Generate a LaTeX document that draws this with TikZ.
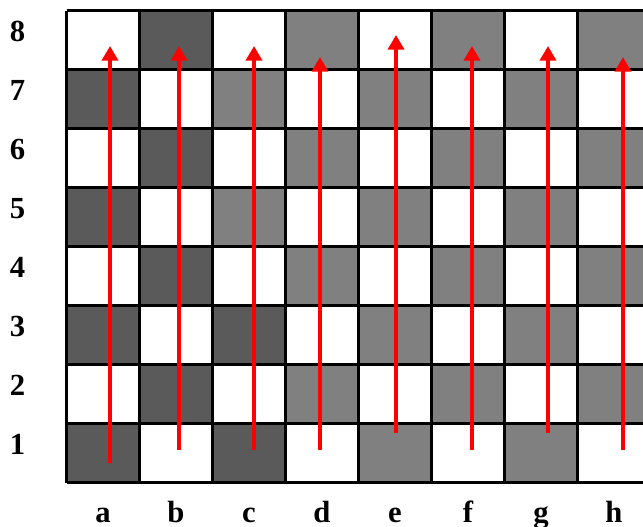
\documentclass[tikz,border=0pt]{standalone}
\usepackage{fontspec}
\setmainfont{Liberation Serif}
\usetikzlibrary{arrows.meta}
\definecolor{sqdark}{RGB}{90,90,90}
\definecolor{sqmid}{RGB}{128,128,128}
\definecolor{movered}{RGB}{255,0,0}

\begin{document}
\begin{tikzpicture}[x=0.75pt, y=-0.75pt,
        lbl/.style={font=\fontsize{23}{23}\selectfont\bfseries, anchor=base},
        arr/.style={-{Triangle[length=11pt, width=12pt]}, line width=3pt, movered},
        gridline/.style={line width=1.8pt, black}
      ]
        \useasboundingbox (0,0) rectangle (643,526);
        % Squares
        \foreach \i/\r in {1/1,3/1,2/2,1/3,3/3,2/4,1/5,2/6,1/7,2/8}
          \fill[sqdark] ({66.5+73*(\i-1)},{10.5+59*(8-\r)}) rectangle +(73,59);
        \foreach \i/\r in {5/1,7/1,4/2,6/2,8/2,5/3,7/3,4/4,6/4,8/4,3/5,5/5,7/5,
                           4/6,6/6,8/6,3/7,5/7,7/7,4/8,6/8,8/8}
          \fill[sqmid] ({66.5+73*(\i-1)},{10.5+59*(8-\r)}) rectangle +(73,59);
        \foreach \k in {0,...,8} {
          \draw[gridline] ({66.5+73*\k},10.5) -- ++(0,472);
          \draw[gridline] (66.5,{10.5+59*\k}) -- ++(584,0);
        }
        % Labels
        \foreach \r in {1,...,8}
          \node[lbl] (rank\r) at (17.5,{41+59*(8-\r)}) {\r};
        \foreach \f [count=\i] in {a,b,c,d,e,f,g,h}
          \node[lbl] (file\f) at ({103+73*(\i-1)},522) {\f};
        % Moves
        \foreach \f/\x/\ya/\yb in {a/110/463/46, b/179/450/46, c/254/450/46,
                                   d/320/450/57, e/396/433/35, f/472/450/46,
                                   g/548/433/46, h/623/450/57} {
          \coordinate (\f-from) at (\x,\ya);
          \coordinate (\f-to) at (\x,\yb);
          \draw[arr] (\f-from) -- (\f-to);
        }
      \end{tikzpicture}
\end{document}
